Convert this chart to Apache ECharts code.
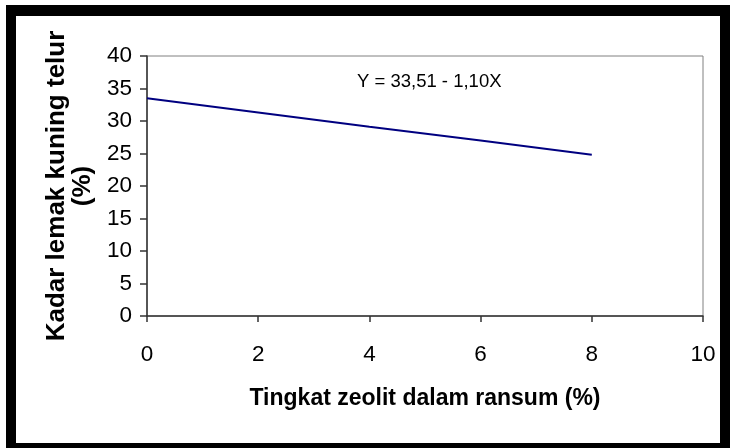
<!DOCTYPE html>
<html>
<head>
<meta charset="utf-8">
<script src="https://cdn.jsdelivr.net/npm/echarts@6/dist/echarts.min.js"></script>
<style>
html,body{margin:0;padding:0;background:#fff;}
#c{width:730px;height:448px;}
</style>
</head>
<body>
<div id="c"></div>
<script>
const xValues = [0, 2, 4, 6, 8];
const yValues = [33.5, 31.3, 29.1, 27.0, 24.8];
const xTicks = [0, 2, 4, 6, 8, 10];
const yTicks = [0, 5, 10, 15, 20, 25, 30, 35, 40];
const xTitle = 'Tingkat zeolit dalam ransum (%)';
const yTitle = 'Kadar lemak kuning telur\n(%)';
const equation = 'Y = 33,51 - 1,10X';

const FONT = '"Liberation Sans", Arial, sans-serif';
const chart = echarts.init(document.getElementById('c'), null, {renderer: 'canvas'});
chart.setOption({
  animation: false,
  backgroundColor: '#fff',
  grid: {left: 147, right: 27, top: 56, bottom: 132, show: true, borderColor: '#808080', borderWidth: 1, backgroundColor: 'transparent'},
  xAxis: {
    type: 'value', min: xTicks[0], max: xTicks[xTicks.length - 1], interval: 2,
    name: xTitle, nameLocation: 'middle', nameGap: 71,
    nameTextStyle: {fontFamily: FONT, fontSize: 23, fontWeight: 'bold', color: '#000'},
    axisLine: {show: true, lineStyle: {color: '#333', width: 1.5}},
    axisTick: {show: true, length: 6, lineStyle: {color: '#333', width: 1.5}},
    axisLabel: {fontFamily: FONT, fontSize: 22.5, color: '#000', margin: 27},
    splitLine: {show: false}
  },
  yAxis: {
    type: 'value', min: yTicks[0], max: yTicks[yTicks.length - 1], interval: 5,
    name: yTitle, nameLocation: 'middle', nameGap: 50, nameRotate: 90,
    nameTextStyle: {fontFamily: FONT, fontSize: 26, fontWeight: 'bold', color: '#000', lineHeight: 26, align: 'center'},
    axisLine: {show: true, lineStyle: {color: '#333', width: 1.5}},
    axisTick: {show: true, length: 7, lineStyle: {color: '#333', width: 1.5}},
    axisLabel: {fontFamily: FONT, fontSize: 22.5, color: '#000', margin: 15},
    splitLine: {show: false}
  },
  series: [{
    type: 'line',
    data: xValues.map((x, i) => [x, yValues[i]]),
    showSymbol: false,
    symbol: 'none',
    lineStyle: {color: '#000080', width: 2},
    itemStyle: {color: '#000080'}
  }],
  graphic: [
    {type: 'text', left: 357, top: 72, style: {text: equation, font: '18.5px ' + FONT, fill: '#000'}},
    {type: 'rect', shape: {x: 6, y: 5, width: 724, height: 11}, style: {fill: '#000'}},
    {type: 'rect', shape: {x: 6, y: 5, width: 10, height: 443}, style: {fill: '#000'}},
    {type: 'rect', shape: {x: 6, y: 443, width: 724, height: 5}, style: {fill: '#000'}},
    {type: 'rect', shape: {x: 720, y: 5, width: 10, height: 443}, style: {fill: '#000'}}
  ]
});
</script>
</body>
</html>
